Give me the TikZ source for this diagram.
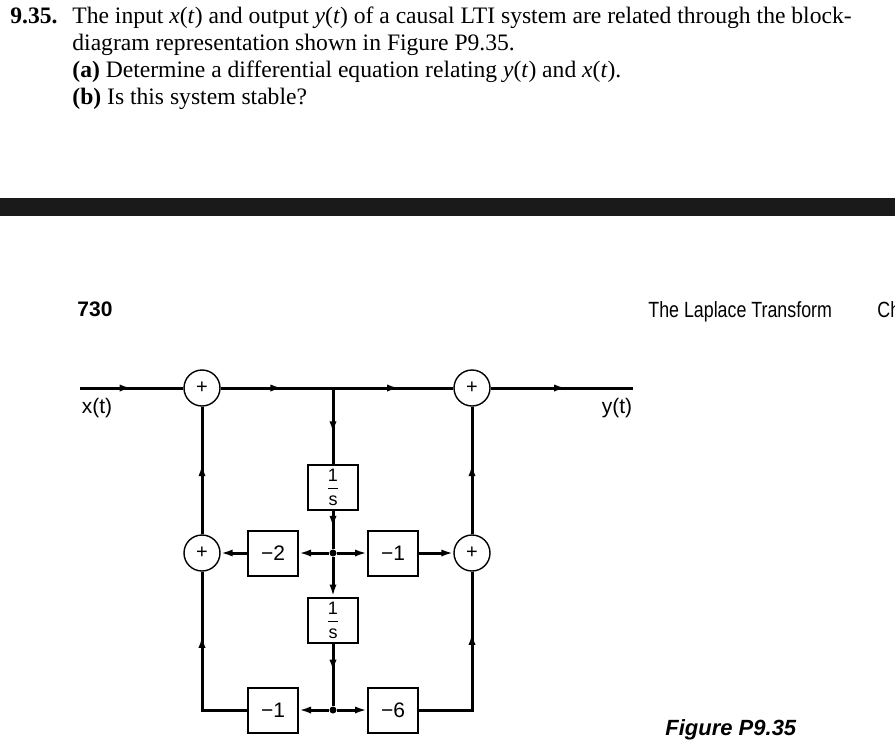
\documentclass[tikz,border=0pt]{standalone}
\usepackage{amsmath}
\usepackage{fontspec}
\setmainfont{Liberation Serif}
\newfontfamily\diagfont{Liberation Sans}
\newfontfamily\headfont[FakeStretch=0.81]{Liberation Sans}
\usetikzlibrary{arrows.meta, decorations.markings}
\definecolor{barblack}{RGB}{26,26,26}

\tikzset{
  prob/.style={anchor=base west, inner sep=0pt, font=\fontsize{11.8}{13.5}\selectfont},
  sumnode/.style={circle, draw, line width=0.7pt, minimum size=18pt, inner sep=0pt, font=\diagfont\fontsize{10}{10}\selectfont},
  gainbox/.style={rectangle, draw, line width=1pt, minimum width=25pt, minimum height=22.5pt, inner sep=0pt, font=\diagfont\fontsize{10.5}{11}\selectfont},
  intbox/.style={gainbox, font=\diagfont\fontsize{9}{10}\selectfont},
  wire/.style={line width=1.5pt},
  arr/.style={-{Latex[length=6pt,width=3.6pt]}},
  midarrow/.style={postaction={decorate}, decoration={markings, mark=at position #1 with {\arrow{Latex[length=6pt,width=3.6pt]}}}},
  dot/.style={circle, fill, inner sep=0pt, minimum size=3.5pt},
  siglabel/.style={font=\diagfont\fontsize{10.5}{12}\selectfont},
}

\begin{document}
\begin{tikzpicture}[x=0.5pt, y=-0.5pt]
  \useasboundingbox (0,0) rectangle (895,751);
  \clip (0,0) rectangle (895,751);
  % problem statement
  \node[prob, font=\fontsize{11.8}{13.5}\selectfont\bfseries] (qnum) at (10,23) {9.35.};
  \node[prob] (qline1) at (72,23) {The input \textit{x}(\textit{t}) and output \textit{y}(\textit{t}) of a causal LTI system are related through the block-};
  \node[prob] (qline2) at (72,50) {diagram representation shown in Figure P9.35.};
  \node[prob] (qpart1) at (72,77) {\textbf{(a)} Determine a differential equation relating \textit{y}(\textit{t}) and \textit{x}(\textit{t}).};
  \node[prob] (qpart2) at (72,104) {\textbf{(b)} Is this system stable?};
  % page bar and running head
  \fill[barblack] (0,198) rectangle (895,216);
  \node[anchor=base west, inner sep=0pt, font=\diagfont\bfseries\fontsize{10.5}{12}\selectfont] (pagenum) at (77,316) {730};
  \node[anchor=base west, inner sep=0pt, font=\headfont\fontsize{11}{12}\selectfont] (chaptitle) at (648,317) {The Laplace Transform};
  \node[anchor=base west, inner sep=0pt, font=\headfont\fontsize{11}{12}\selectfont] (chapword) at (877,317) {Ch};

  % block diagram
  \coordinate (xin) at (80,388);
  \node[sumnode] (s1) at (202,388) {+};
  \coordinate (j1) at (333,388);
  \node[sumnode] (s2) at (472,388) {+};
  \coordinate (yout) at (633,388);
  \node[intbox] (int1) at (333,487) {$\dfrac{\text{1}}{\text{s}}$};
  \node[dot] (j2) at (333,553) {};
  \node[gainbox] (gm2) at (273,553) {−2};
  \node[gainbox] (gm1) at (393,553) {−1};
  \node[sumnode] (s3) at (202,553) {+};
  \node[sumnode] (s4) at (472,553) {+};
  \node[intbox] (int2) at (333,620) {$\dfrac{\text{1}}{\text{s}}$};
  \node[dot] (j3) at (333,710) {};
  \node[gainbox] (gb1) at (273,710) {−1};
  \node[gainbox] (gb6) at (393,710) {−6};
  \node[siglabel] (xlabel) at (97,408) {x(t)};
  \node[siglabel] (ylabel) at (617,408) {y(t)};

  % forward path
  \draw[wire, midarrow=0.5] (xin) -- (s1.west);
  \draw[wire, midarrow=0.55] (s1.east) -- (j1);
  \draw[wire, midarrow=0.55] (j1) -- (s2.west);
  \draw[wire, midarrow=0.53] (s2.east) -- (yout);
  \draw[wire, midarrow=0.6] (j1) -- (int1.north);
  \draw[wire, midarrow=0.45] (int1.south) -- (j2);
  \draw[wire, arr] (j2) -- (int2.north);
  \draw[wire, midarrow=0.45] (int2.south) -- (j3);
  % gains
  \draw[wire, arr] (j2) -- (gm2.east);
  \draw[wire, arr] (j2) -- (gm1.west);
  \draw[wire, arr] (gm2.west) -- (s3.east);
  \draw[wire, arr] (gm1.east) -- (s4.west);
  \draw[wire, arr] (j3) -- (gb1.east);
  \draw[wire, arr] (j3) -- (gb6.west);
  % side paths
  \draw[wire, midarrow=0.65] (gb1.west) -| (s3.south);
  \draw[wire, midarrow=0.68] (gb6.east) -| (s4.south);
  \draw[wire, midarrow=0.55] (s3.north) -- (s1.south);
  \draw[wire, midarrow=0.55] (s4.north) -- (s2.south);

  \node[anchor=base west, inner sep=0pt, font=\diagfont\bfseries\itshape\fontsize{11}{12}\selectfont] (figcap) at (665,735) {Figure P9.35};
\end{tikzpicture}
\end{document}
